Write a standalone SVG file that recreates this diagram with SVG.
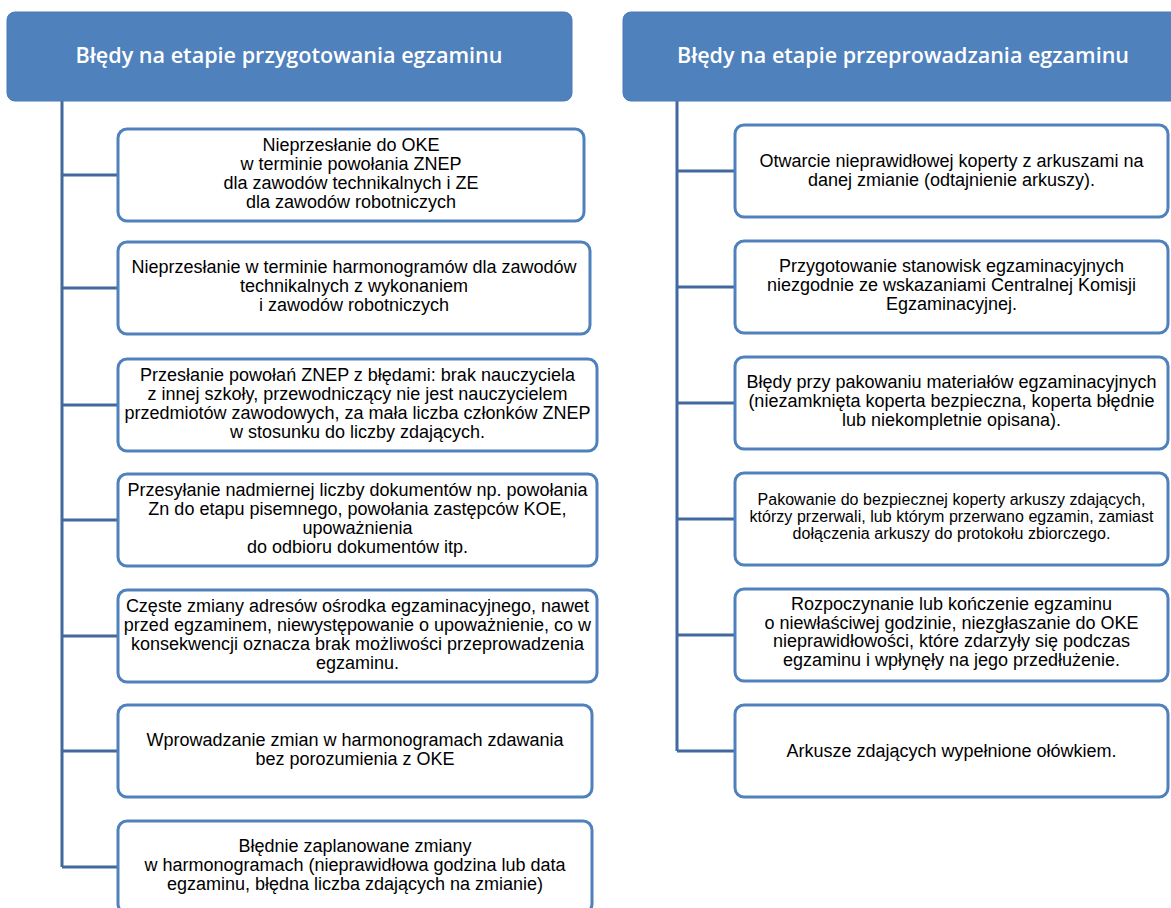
<svg xmlns="http://www.w3.org/2000/svg" width="1171" height="908" viewBox="0 0 1171 908">
<style>
.hdr{fill:#4F81BD;stroke:#4A7AB5;stroke-width:1}
.ht{font-family:"Open Sans","Liberation Sans",sans-serif;font-weight:600;font-size:21px;fill:#FFFFFF;text-anchor:middle}
.box{fill:#FFFFFF;stroke:#4F81BD;stroke-width:3}
.t{font-family:"Liberation Sans",Arial,sans-serif;font-size:18px;fill:#000000;text-anchor:middle}
.ts{font-family:"Liberation Sans",Arial,sans-serif;font-size:16px;fill:#000000;text-anchor:middle}
.conn{fill:none;stroke:#41699F;stroke-width:3}
</style>
<rect width="1171" height="908" fill="#FFFFFF"/>
<g id="connectors">
<path class="conn" d="M62 101V867M62 175H118M62 288H118M62 405H118M62 520H118M62 636H118M62 751H118M62 867H118"/>
<path class="conn" d="M677 101V751M677 171H735M677 287H735M677 403H735M677 519H735M677 635H735M677 751H735"/>
</g>
<g id="header-left">
<rect class="hdr" x="7" y="12" width="565" height="89" rx="8"/>
<text class="ht" x="289" y="63" textLength="427" lengthAdjust="spacingAndGlyphs">Błędy na etapie przygotowania egzaminu</text>
</g>
<g id="header-right">
<rect class="hdr" x="623" y="12" width="560" height="89" rx="8"/>
<text class="ht" x="903" y="63" textLength="452" lengthAdjust="spacingAndGlyphs">Błędy na etapie przeprowadzania egzaminu</text>
</g>
<g id="left-1">
<rect class="box" x="118" y="129" width="466" height="92" rx="9"/>
<text class="t" x="351" y="150.5">Nieprzesłanie do OKE</text>
<text class="t" x="351" y="169.5">w terminie powołania ZNEP</text>
<text class="t" x="351" y="188.5">dla zawodów technikalnych i ZE</text>
<text class="t" x="351" y="207.5">dla zawodów robotniczych</text>
</g>
<g id="left-2">
<rect class="box" x="118" y="242" width="472" height="92" rx="9"/>
<text class="t" x="354" y="273">Nieprzesłanie w terminie harmonogramów dla zawodów</text>
<text class="t" x="354" y="292">technikalnych z wykonaniem</text>
<text class="t" x="354" y="311">i zawodów robotniczych</text>
</g>
<g id="left-3">
<rect class="box" x="118" y="359" width="479" height="92" rx="9"/>
<text class="t" x="357.5" y="380.5">Przesłanie powołań ZNEP z błędami: brak nauczyciela</text>
<text class="t" x="357.5" y="399.5">z innej szkoły, przewodniczący nie jest nauczycielem</text>
<text class="t" x="357.5" y="418.5">przedmiotów zawodowych, za mała liczba członków ZNEP</text>
<text class="t" x="357.5" y="437.5">w stosunku do liczby zdających.</text>
</g>
<g id="left-4">
<rect class="box" x="118" y="474" width="479" height="92" rx="9"/>
<text class="t" x="357.5" y="495.5">Przesyłanie nadmiernej liczby dokumentów np. powołania</text>
<text class="t" x="357.5" y="514.5">Zn do etapu pisemnego, powołania zastępców KOE,</text>
<text class="t" x="357.5" y="533.5">upoważnienia</text>
<text class="t" x="357.5" y="552.5">do odbioru dokumentów itp.</text>
</g>
<g id="left-5">
<rect class="box" x="118" y="590" width="479" height="92" rx="9"/>
<text class="t" x="357.5" y="611.5">Częste zmiany adresów ośrodka egzaminacyjnego, nawet</text>
<text class="t" x="357.5" y="630.5">przed egzaminem, niewystępowanie o upoważnienie, co w</text>
<text class="t" x="357.5" y="649.5">konsekwencji oznacza brak możliwości przeprowadzenia</text>
<text class="t" x="357.5" y="668.5">egzaminu.</text>
</g>
<g id="left-6">
<rect class="box" x="118" y="705" width="474" height="92" rx="9"/>
<text class="t" x="355" y="745.5">Wprowadzanie zmian w harmonogramach zdawania</text>
<text class="t" x="355" y="764.5">bez porozumienia z OKE</text>
</g>
<g id="left-7">
<rect class="box" x="118" y="821" width="474" height="92" rx="9"/>
<text class="t" x="355" y="852">Błędnie zaplanowane zmiany</text>
<text class="t" x="355" y="871">w harmonogramach (nieprawidłowa godzina lub data</text>
<text class="t" x="355" y="890">egzaminu, błędna liczba zdających na zmianie)</text>
</g>
<g id="right-1">
<rect class="box" x="735" y="125" width="433" height="92" rx="9"/>
<text class="t" x="951.5" y="166.5">Otwarcie nieprawidłowej koperty z arkuszami na</text>
<text class="t" x="951.5" y="185.5">danej zmianie (odtajnienie arkuszy).</text>
</g>
<g id="right-2">
<rect class="box" x="735" y="241" width="433" height="92" rx="9"/>
<text class="t" x="951.5" y="272">Przygotowanie stanowisk egzaminacyjnych</text>
<text class="t" x="951.5" y="291">niezgodnie ze wskazaniami Centralnej Komisji</text>
<text class="t" x="951.5" y="310">Egzaminacyjnej.</text>
</g>
<g id="right-3">
<rect class="box" x="735" y="357" width="433" height="92" rx="9"/>
<text class="t" x="951.5" y="388">Błędy przy pakowaniu materiałów egzaminacyjnych</text>
<text class="t" x="951.5" y="407">(niezamknięta koperta bezpieczna, koperta błędnie</text>
<text class="t" x="951.5" y="426">lub niekompletnie opisana).</text>
</g>
<g id="right-4">
<rect class="box" x="735" y="473" width="433" height="92" rx="9"/>
<text class="ts" x="951.5" y="505" textLength="388">Pakowanie do bezpiecznej koperty arkuszy zdających,</text>
<text class="ts" x="951.5" y="522" textLength="404">którzy przerwali, lub którym przerwano egzamin, zamiast</text>
<text class="ts" x="951.5" y="539" textLength="318">dołączenia arkuszy do protokołu zbiorczego.</text>
</g>
<g id="right-5">
<rect class="box" x="735" y="589" width="433" height="92" rx="9"/>
<text class="t" x="951.5" y="610">Rozpoczynanie lub kończenie egzaminu</text>
<text class="t" x="951.5" y="628.5">o niewłaściwej godzinie, niezgłaszanie do OKE</text>
<text class="t" x="951.5" y="647">nieprawidłowości, które zdarzyły się podczas</text>
<text class="t" x="951.5" y="665.5">egzaminu i wpłynęły na jego przedłużenie.</text>
</g>
<g id="right-6">
<rect class="box" x="735" y="705" width="433" height="92" rx="9"/>
<text class="t" x="951.5" y="757">Arkusze zdających wypełnione ołówkiem.</text>
</g>
</svg>
